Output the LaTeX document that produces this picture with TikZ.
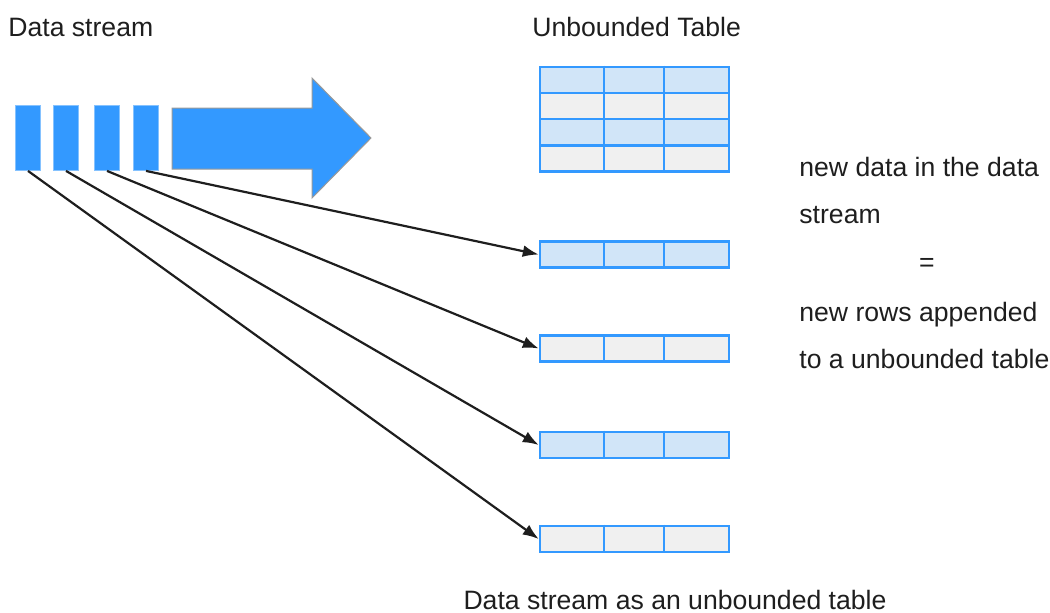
\documentclass[tikz,border=0pt]{standalone}
\usepackage{fontspec}
\setmainfont{Liberation Sans}
\usetikzlibrary{arrows.meta,calc}
\definecolor{StreamBlue}{HTML}{3399FF}
\definecolor{RowBlue}{HTML}{D1E5F8}
\definecolor{RowGray}{HTML}{F0F0F0}
\definecolor{InkGray}{HTML}{1E1E1E}

\begin{document}
\begin{tikzpicture}[x=0.5pt,y=-0.5pt,>=Latex,
 font=\fontsize{13.3}{16}\selectfont,
 lbl/.style={text=InkGray,anchor=base west,inner sep=0pt},
 bar/.style={draw=StreamBlue!60,fill=StreamBlue,line width=.4pt,minimum width=12.5pt,minimum height=32.5pt,inner sep=0pt},
 tblrow/.style={draw=StreamBlue,line width=1.3pt,minimum width=94.5pt,minimum height=13pt,inner sep=0pt},
 cellline/.style={draw=StreamBlue,line width=1.1pt},
 feed/.style={->,draw=InkGray,line width=1.1pt}]
\useasboundingbox (0,0) rectangle (1050,612);

% data stream
\node[lbl] (streamlbl) at (8,36) {Data stream};
\node[bar] (b1) at (28,138) {};
\node[bar] (b2) at (66,138) {};
\node[bar] (b3) at (107,138) {};
\node[bar] (b4) at (146,138) {};
\draw[draw=gray!80,fill=StreamBlue,line width=.5pt]
 (172,108) -- (312,108) -- (312,78) -- (371,138) -- (312,198) -- (312,169) -- (172,169) -- cycle;

% unbounded table
\node[lbl] (tablelbl) at (532,36) {Unbounded Table};
\foreach \n/\y/\c in {t1/80/RowBlue,t2/106/RowGray,t3/132/RowBlue,t4/158.5/RowGray}{
 \node[tblrow,fill=\c] (\n) at (634.5,\y) {};
 \draw[cellline] ($(\n.north west)!.339!(\n.north east)$) -- ($(\n.south west)!.339!(\n.south east)$);
 \draw[cellline] ($(\n.north west)!.656!(\n.north east)$) -- ($(\n.south west)!.656!(\n.south east)$);
}

% new rows
\foreach \n/\y/\c in {r1/254.5/RowBlue,r2/348.5/RowGray,r3/445/RowBlue,r4/539/RowGray}{
 \node[tblrow,fill=\c] (\n) at (634.5,\y) {};
 \draw[cellline] ($(\n.north west)!.339!(\n.north east)$) -- ($(\n.south west)!.339!(\n.south east)$);
 \draw[cellline] ($(\n.north west)!.656!(\n.north east)$) -- ($(\n.south west)!.656!(\n.south east)$);
}
\draw[feed] (b4.south) -- (r1.west);
\draw[feed] (b3.south) -- (r2.west);
\draw[feed] (b2.south) -- (r3.west);
\draw[feed] (b1.south) -- (r4.west);

% explanation
\node[lbl] (note1) at (799,176) {new data in the data};
\node[lbl] (note2) at (799,223) {stream};
\node[lbl,anchor=base] (noteeq) at (927,271) {=};
\node[lbl] (note3) at (799,321) {new rows appended};
\node[lbl] (note4) at (799,368) {to a unbounded table};
\node[lbl,anchor=base] (caption) at (675,609) {Data stream as an unbounded table};
\end{tikzpicture}
\end{document}
